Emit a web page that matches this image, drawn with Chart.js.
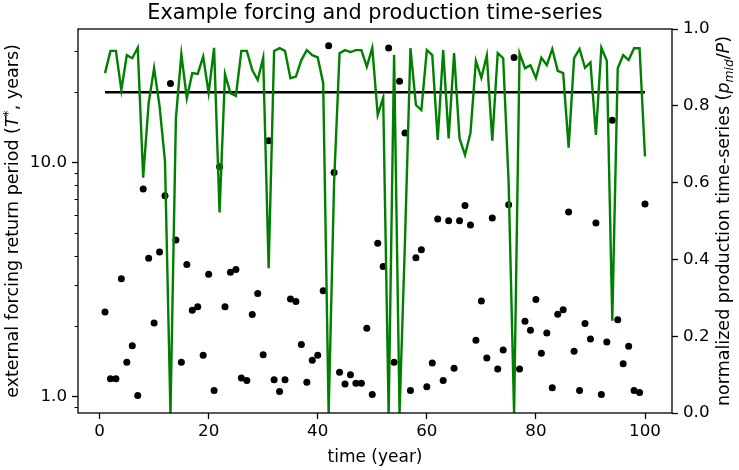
<!DOCTYPE html>
<html>
<head>
<meta charset="utf-8">
<script src="https://cdn.jsdelivr.net/npm/chart.js@4"></script>
<style>
  html, body { margin: 0; padding: 0; background: #fff; }
  canvas { display: block; }
</style>
</head>
<body>
<canvas id="forcingChart" width="739" height="470"></canvas>
<script>
const years = [
  1, 2, 3, 4, 5, 6, 7, 8, 9, 10, 11, 12, 13, 14, 15, 16, 17, 18, 19, 20,
  21, 22, 23, 24, 25, 26, 27, 28, 29, 30, 31, 32, 33, 34, 35, 36, 37, 38, 39, 40,
  41, 42, 43, 44, 45, 46, 47, 48, 49, 50, 51, 52, 53, 54, 55, 56, 57, 58, 59, 60,
  61, 62, 63, 64, 65, 66, 67, 68, 69, 70, 71, 72, 73, 74, 75, 76, 77, 78, 79, 80,
  81, 82, 83, 84, 85, 86, 87, 88, 89, 90, 91, 92, 93, 94, 95, 96, 97, 98, 99, 100
];

// external forcing return period T* (years), left log axis
const returnPeriod = [
  2.30, 1.19, 1.19, 3.19, 1.40, 1.65, 1.01, 7.71, 3.90, 2.06,
  4.15, 7.22, 21.8, 4.67, 1.40, 3.67, 2.34, 2.42, 1.50, 3.33,
  1.06, 9.6, 2.42, 3.40, 3.49, 1.20, 1.17, 2.24, 2.76, 1.51,
  12.4, 1.18, 1.05, 1.18, 2.61, 2.55, 1.67, 1.15, 1.43, 1.50,
  2.83, 31.6, 9.07, 1.27, 1.13, 1.24, 1.14, 1.14, 1.96, 1.02,
  4.52, 3.60, 30.9, 1.40, 22.3, 13.4, 1.06, 3.92, 4.24, 1.10,
  1.39, 5.74, 1.17, 5.65, 1.32, 5.65, 6.56, 5.41, 1.74, 2.56,
  1.46, 5.80, 1.31, 1.58, 6.6, 28.2, 1.31, 2.10, 1.92, 2.60,
  1.53, 1.87, 1.09, 2.25, 2.35, 6.15, 1.56, 1.06, 2.05, 1.76,
  5.52, 1.02, 1.71, 15.2, 2.13, 1.38, 1.64, 1.06, 1.04, 6.65
];

// normalized production p_mid/P, right axis
const production = [
  0.885, 0.943, 0.943, 0.841, 0.932, 0.924, 0.951, 0.613, 0.807, 0.898,
  0.800, 0.655, 0.0, 0.768, 0.934, 0.820, 0.885, 0.883, 0.928, 0.833,
  0.951, 0.522, 0.882, 0.833, 0.826, 0.943, 0.943, 0.893, 0.867, 0.925,
  0.377, 0.943, 0.950, 0.943, 0.872, 0.876, 0.919, 0.945, 0.932, 0.926,
  0.859, 0.0, 0.600, 0.937, 0.945, 0.940, 0.945, 0.945, 0.902, 0.951,
  0.776, 0.821, 0.0, 0.932, 0.0, 0.450, 0.950, 0.802, 0.789, 0.945,
  0.932, 0.711, 0.945, 0.715, 0.937, 0.715, 0.672, 0.729, 0.917, 0.873,
  0.931, 0.709, 0.937, 0.924, 0.600, 0.0, 0.937, 0.898, 0.906, 0.872,
  0.925, 0.906, 0.948, 0.891, 0.885, 0.691, 0.924, 0.948, 0.899, 0.913,
  0.724, 0.951, 0.917, 0.240, 0.898, 0.932, 0.919, 0.950, 0.950, 0.668
];

const thresholdYears = [1, 100];
const thresholdValue = [20, 20];

const xTicks = [0, 20, 40, 60, 80, 100];
const leftMajorTicks = [1, 10];
const leftMinorTicks = [0.9, 2, 3, 4, 5, 6, 7, 8, 9, 20, 30];
const rightTicks = [0, 0.2, 0.4, 0.6, 0.8, 1.0];

const FONT = 'DejaVu Sans';
Chart.defaults.font.family = FONT;
Chart.defaults.font.size = 16.7;
Chart.defaults.color = '#000';

function drawRich(ctx, parts, x, y, angle) {
  ctx.save();
  ctx.translate(x, y);
  ctx.rotate(angle);
  let total = 0;
  parts.forEach(p => { ctx.font = p.font; p.w = ctx.measureText(p.text).width; total += p.w; });
  let cx = -total / 2;
  ctx.textBaseline = 'alphabetic';
  ctx.textAlign = 'left';
  ctx.fillStyle = '#000';
  parts.forEach(p => { ctx.font = p.font; ctx.fillText(p.text, cx, p.dy || 0); cx += p.w; });
  ctx.restore();
}

const decorations = {
  id: 'decorations',
  afterDraw(chart) {
    const ctx = chart.ctx;
    const a = chart.chartArea;
    const yl = chart.scales.y;

    // frame
    ctx.save();
    ctx.strokeStyle = '#000';
    ctx.lineWidth = 1.3;
    ctx.strokeRect(a.left, a.top, a.right - a.left, a.bottom - a.top);

    // minor ticks on log axis
    ctx.lineWidth = 1;
    leftMinorTicks.forEach(v => {
      const py = Math.round(yl.getPixelForValue(v)) + 0.5;
      ctx.beginPath();
      ctx.moveTo(a.left - 3.5, py);
      ctx.lineTo(a.left, py);
      ctx.stroke();
    });
    ctx.restore();

    // title
    drawRich(ctx, [{ text: 'Example forcing and production time-series', font: '20.8px ' + FONT }],
      (a.left + a.right) / 2, 19, 0);

    // x label
    drawRich(ctx, [{ text: 'time (year)', font: '17px ' + FONT }],
      (a.left + a.right) / 2, 462, 0);

    const n = '17.5px ' + FONT;
    const it = 'oblique 17.5px ' + FONT;
    const sm = '12.3px ' + FONT;
    const smIt = 'oblique 12.3px ' + FONT;
    const mid = (a.top + a.bottom) / 2;

    drawRich(ctx, [
      { text: 'external forcing return period (', font: n },
      { text: 'T', font: it },
      { text: '*', font: sm, dy: -6 },
      { text: ', years)', font: n }
    ], 18, mid, -Math.PI / 2);

    drawRich(ctx, [
      { text: 'normalized production time-series (', font: n },
      { text: 'p', font: it },
      { text: 'mid', font: smIt, dy: 3.5 },
      { text: '/', font: n },
      { text: 'P', font: it },
      { text: ')', font: n }
    ], 729, mid, -Math.PI / 2);
  }
};

const ctx = document.getElementById('forcingChart').getContext('2d');
const forcingChart = new Chart(ctx, {
  type: 'scatter',
  data: {
    datasets: [
      {
        label: 'production',
        data: years.map((x, i) => ({ x: x, y: production[i] })),
        yAxisID: 'y2',
        showLine: true,
        borderColor: '#008000',
        borderWidth: 2.4,
        pointRadius: 0,
        order: 0
      },
      {
        label: 'threshold',
        data: thresholdYears.map((x, i) => ({ x: x, y: thresholdValue[i] })),
        yAxisID: 'y',
        showLine: true,
        borderColor: '#000',
        borderWidth: 2.4,
        pointRadius: 0,
        order: 1
      },
      {
        label: 'forcing',
        data: years.map((x, i) => ({ x: x, y: returnPeriod[i] })),
        yAxisID: 'y',
        backgroundColor: '#000',
        borderColor: '#000',
        pointRadius: 3.5,
        borderWidth: 0,
        order: 2
      }
    ]
  },
  options: {
    responsive: false,
    animation: false,
    devicePixelRatio: 1,
    layout: { padding: { left: 0, right: 0, top: 29, bottom: 0 } },
    plugins: {
      legend: { display: false },
      tooltip: { enabled: false }
    },
    scales: {
      x: {
        type: 'linear',
        min: -3.95,
        max: 104.95,
        afterBuildTicks: s => { s.ticks = xTicks.map(v => ({ value: v })); },
        afterFit: s => { s.height = 57; },
        grid: { drawOnChartArea: false, tickLength: 6, tickWidth: 1.3, tickColor: '#000' },
        border: { display: false },
        ticks: { padding: 3, callback: v => String(v), autoSkip: false, maxRotation: 0 }
      },
      y: {
        type: 'logarithmic',
        position: 'left',
        min: 0.85,
        max: 37.3,
        afterBuildTicks: s => { s.ticks = leftMajorTicks.map(v => ({ value: v })); },
        afterFit: s => { s.width = 78; },
        grid: { drawOnChartArea: false, tickLength: 6, tickWidth: 1.3, tickColor: '#000' },
        border: { display: false },
        ticks: { padding: 5, autoSkip: false, callback: v => v.toFixed(1) }
      },
      y2: {
        type: 'linear',
        position: 'right',
        min: 0,
        max: 1,
        afterBuildTicks: s => { s.ticks = rightTicks.map(v => ({ value: v })); },
        afterFit: s => { s.width = 67; },
        grid: { drawOnChartArea: false, tickLength: 6, tickWidth: 1.3, tickColor: '#000' },
        border: { display: false },
        ticks: { padding: 5, autoSkip: false, callback: v => v.toFixed(1) }
      }
    }
  },
  plugins: [decorations]
});
</script>
</body>
</html>
